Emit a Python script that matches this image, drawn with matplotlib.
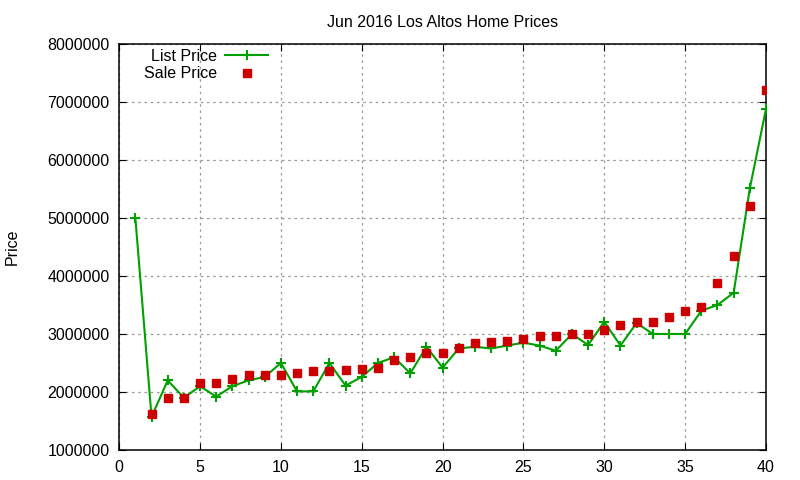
import numpy as np
import matplotlib
matplotlib.use("Agg")
import matplotlib.pyplot as plt

plt.rcParams["font.family"] = ["Liberation Sans", "DejaVu Sans"]

# Listing index 1..40
positions = list(range(1, 41))

list_price = [
    5000000, 1570000, 2200000, 1900000, 2100000, 1920000, 2100000, 2200000, 2260000, 2500000,
    2010000, 2010000, 2500000, 2110000, 2260000, 2500000, 2600000, 2320000, 2780000, 2420000,
    2750000, 2780000, 2750000, 2800000, 2850000, 2800000, 2710000, 3000000, 2810000, 3210000,
    2800000, 3190000, 3000000, 3000000, 3000000, 3400000, 3500000, 3710000, 5510000, 6880000,
]

sale_price = [
    np.nan, 1620000, 1900000, 1900000, 2150000, 2150000, 2220000, 2300000, 2300000, 2300000,
    2330000, 2360000, 2360000, 2380000, 2400000, 2420000, 2550000, 2600000, 2670000, 2680000,
    2760000, 2850000, 2870000, 2880000, 2920000, 2970000, 2970000, 3000000, 3000000, 3060000,
    3150000, 3210000, 3210000, 3300000, 3400000, 3470000, 3880000, 4350000, 5200000, 7200000,
]

GREEN = "#00a000"
RED = "#cc0000"
FS = 11.5

fig = plt.figure(figsize=(8, 4.8), dpi=100)
ax = fig.add_axes([0.149, 0.0625, 0.8085, 0.846])

ax.plot(positions, list_price, color=GREEN, linewidth=1.5, marker="+",
        markersize=7, markeredgewidth=1.5, label="List Price", zorder=3)
ax.plot(positions, sale_price, linestyle="none", marker="s", color=RED,
        markersize=5.6, label="Sale Price", zorder=4)

ax.set_xlim(0, 40)
ax.set_ylim(1000000, 8000000)
ax.set_xticks(range(0, 41, 5))
ax.set_yticks(range(1000000, 8000001, 1000000))
ax.ticklabel_format(style="plain", axis="y")

ax.grid(True, color="#999999", linestyle=(0, (2, 3)), linewidth=0.9)
ax.tick_params(direction="in", top=True, right=True, length=5, labelsize=FS,
               colors="black", pad=7)
for spine in ax.spines.values():
    spine.set_linewidth(1.1)

ax.set_title("Jun 2016 Los Altos Home Prices", fontsize=FS, pad=12.5)
ax.set_ylabel("Price", fontsize=FS, labelpad=20)

ax.legend(loc="upper left", bbox_to_anchor=(0.021, 1.015), frameon=False,
          markerfirst=False, fontsize=FS, handlelength=2.7, handletextpad=0.5,
          labelspacing=0.15, borderpad=0.2)

fig.savefig("out.png", dpi=100)
